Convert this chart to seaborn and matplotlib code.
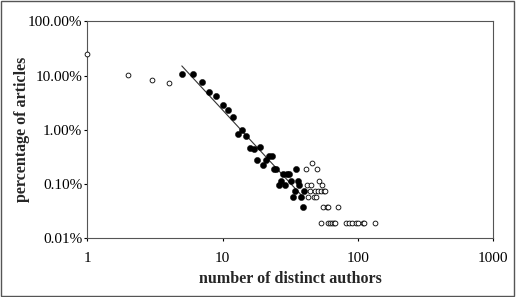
import numpy as np
import pandas as pd
import matplotlib
matplotlib.use("Agg")
import matplotlib.pyplot as plt
import seaborn as sns
from matplotlib.ticker import FixedLocator, FixedFormatter, NullLocator
from matplotlib.patches import Rectangle

# ---- data ----
filled_x = [5, 6, 7, 8, 9, 10, 11, 12, 13, 14, 15, 16, 17, 18, 19, 20, 21, 22, 23,
            24, 25, 26, 27, 28, 29, 30, 31, 32, 33, 34, 35, 36, 37, 38, 39, 40]
filled_y = [10.7, 10.7, 7.5, 5.0, 4.2, 2.85, 2.3, 1.74, 0.83, 1.0, 0.76, 0.45, 0.44,
            0.28, 0.48, 0.226, 0.28, 0.32, 0.32, 0.188, 0.188, 0.094, 0.113, 0.15,
            0.094, 0.15, 0.15, 0.113, 0.0564, 0.075, 0.188, 0.113, 0.094, 0.0564,
            0.0376, 0.075]

open_x = [1, 2, 3, 4,
          41, 46, 50, 52,
          42, 45, 54,
          44, 48, 51, 53, 56, 57,
          43, 47, 49,
          55, 59, 60, 71,
          53, 60, 62, 64, 66, 68, 81, 86, 91, 96, 100, 109, 111, 133]
open_y = [24.6, 10.2, 8.1, 7.3,
          0.188, 0.245, 0.188, 0.113,
          0.094, 0.094, 0.094,
          0.075, 0.075, 0.075, 0.075, 0.075, 0.075,
          0.0564, 0.0564, 0.0564,
          0.0376, 0.0376, 0.0376, 0.0376,
          0.0188, 0.0188, 0.0188, 0.0188, 0.0188, 0.0188, 0.0188, 0.0188,
          0.0188, 0.0188, 0.0188, 0.0188, 0.0188, 0.0188]

x_ticks = [1, 10, 100, 1000]
x_tick_labels = ["1", "10", "100", "1000"]
y_ticks = [0.01, 0.1, 1, 10, 100]
y_tick_labels = ["0.01%", "0.10%", "1.00%", "10.00%", "100.00%"]

filled_df = pd.DataFrame({"authors": filled_x, "pct": filled_y})
open_df = pd.DataFrame({"authors": open_x, "pct": open_y})

# power-law trend line fitted to the filled points (log-log least squares)
slope, intercept = np.polyfit(np.log10(filled_df["authors"]), np.log10(filled_df["pct"]), 1)
fit_df = pd.DataFrame({"authors": [min(filled_x), max(filled_x)]})
fit_df["pct"] = 10 ** (intercept + slope * np.log10(fit_df["authors"]))

# ---- style ----
sns.set_style("ticks")
plt.rcParams["font.family"] = ["Liberation Serif", "DejaVu Serif"]

fig = plt.figure(figsize=(5.16, 2.97), dpi=100)
ax = fig.add_axes([0.169, 0.199, 0.787, 0.729])

sns.lineplot(data=fit_df, x="authors", y="pct", ax=ax, color="#333333", lw=0.8)
sns.scatterplot(data=open_df, x="authors", y="pct", ax=ax, marker="o", s=12,
                facecolor="white", edgecolor="black", linewidth=0.6, zorder=3,
                clip_on=False)
sns.scatterplot(data=filled_df, x="authors", y="pct", ax=ax, marker="o", s=20,
                color="black", edgecolor="black", linewidth=0.3, zorder=4)

ax.set_xscale("log")
ax.set_yscale("log")
ax.set_xlim(1, 1000)
ax.set_ylim(0.01, 100)
ax.xaxis.set_major_locator(FixedLocator(x_ticks))
ax.xaxis.set_major_formatter(FixedFormatter(x_tick_labels))
ax.yaxis.set_major_locator(FixedLocator(y_ticks))
ax.yaxis.set_major_formatter(FixedFormatter(y_tick_labels))
ax.xaxis.set_minor_locator(NullLocator())
ax.yaxis.set_minor_locator(NullLocator())
ax.tick_params(axis="both", direction="out", length=2.5, width=0.8, labelsize=11,
               colors="black")
ax.tick_params(axis="y", pad=1)
ax.tick_params(axis="x", pad=8)

for sp in ax.spines.values():
    sp.set_visible(True)
    sp.set_color("#555555")
    sp.set_linewidth(0.8)

ax.set_xlabel("number of distinct authors", fontsize=11.5, fontweight="bold")
ax.set_ylabel("percentage of articles", fontsize=11.5, fontweight="bold")
ax.xaxis.set_label_coords(0.5, -0.155)
ax.yaxis.set_label_coords(-0.14, 0.5)

fig.patches.append(Rectangle((0.002, 0.003), 0.994, 0.993, transform=fig.transFigure,
                             fill=False, edgecolor="#555555", linewidth=1.0))

fig.savefig("out.png", dpi=100)
